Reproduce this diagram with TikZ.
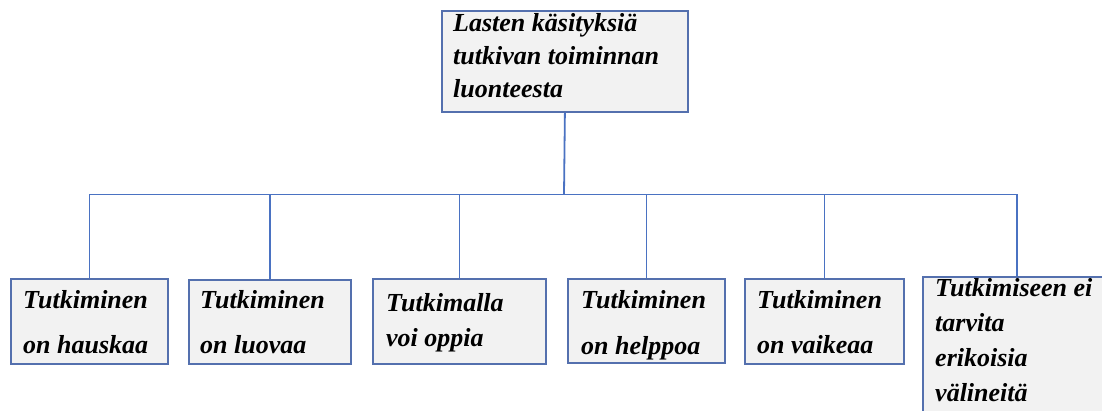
\documentclass[tikz,border=0pt]{standalone}
\usepackage{fontspec}
\setmainfont{Liberation Serif}
\definecolor{boxfill}{HTML}{F2F2F2}
\definecolor{boxline}{HTML}{5470AE}
\definecolor{conn}{HTML}{4A72C2}
\begin{document}
\begin{tikzpicture}[x=1pt,y=1pt,
  box/.style={draw=boxline, fill=boxfill, line width=1.8pt, rectangle, inner sep=0pt, anchor=north west},
  txt/.style={anchor=base west, inner sep=0pt, align=left, font=\bfseries\itshape\fontsize{26}{34}\selectfont},
  link/.style={draw=conn, line width=1.8pt}]
\useasboundingbox (0,0) rectangle (1102,-411);
\clip (0,0) rectangle (1102,-411);
\fill[white] (0,0) rectangle (1102,-411);
% boxes
\node[box, minimum width=246pt, minimum height=101pt] (top) at (441,-10) {};
\node[box, minimum width=157pt, minimum height=85pt] (c1) at (10,-278) {};
\node[box, minimum width=162pt, minimum height=84pt] (c2) at (188,-279) {};
\node[box, minimum width=173pt, minimum height=85pt] (c3) at (372,-278) {};
\node[box, minimum width=157pt, minimum height=84pt] (c4) at (567,-278) {};
\node[box, minimum width=159pt, minimum height=85pt] (c5) at (744,-278) {};
\node[box, minimum width=188pt, minimum height=160pt] (c6) at (922,-276) {};
% texts (anchored at the baseline of the last line)
\node[txt] (ttop) at (453,-98) {Lasten käsityksiä\\[-1pt]tutkivan toiminnan\\[-1pt]luonteesta};
\node[txt] (t1) at (23,-353) {Tutkiminen\\[11pt]on hauskaa};
\node[txt] (t2) at (200,-353) {Tutkiminen\\[11pt]on luovaa};
\node[txt] (t3) at (386,-346) {Tutkimalla\\[1pt]voi oppia};
\node[txt] (t4) at (581,-354) {Tutkiminen\\[12pt]on helppoa};
\node[txt] (t5) at (757,-353) {Tutkiminen\\[11pt]on vaikeaa};
\node[txt] (t6) at (935,-401) {Tutkimiseen ei\\[0.7pt]tarvita\\[0.7pt]erikoisia\\[0.7pt]välineitä};
% connectors
\coordinate (hub) at (564,-194.5);
\draw[link] (top.south) -- (hub);
\foreach \c in {c1,c2,c3,c4,c5,c6} {
  \draw[link] (hub) -| (\c.north);
}
\end{tikzpicture}
\end{document}
